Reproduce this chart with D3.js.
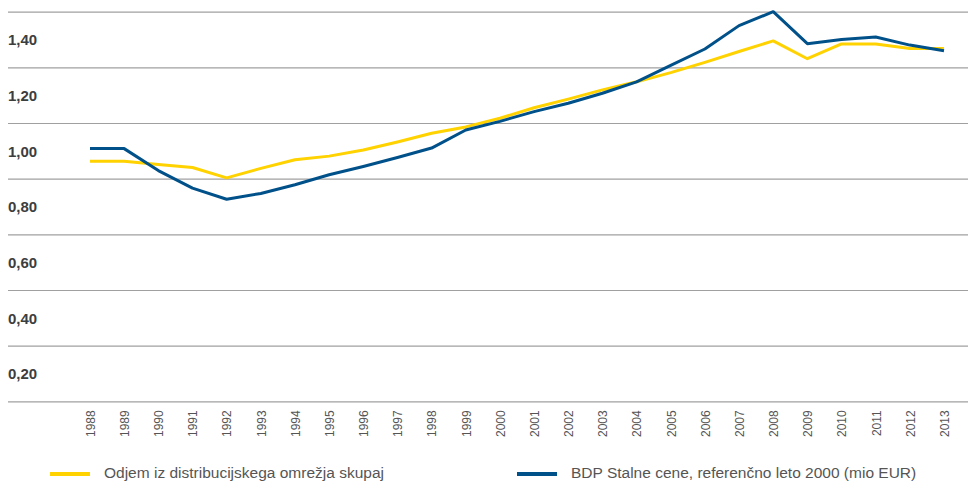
<!DOCTYPE html>
<html>
<head>
<meta charset="utf-8">
<script src="https://cdn.jsdelivr.net/npm/d3@7"></script>
<style>
  body { margin: 0; background: #fff; }
  svg { display: block; font-family: "Liberation Sans", Arial, sans-serif; }
  .y-label text { font-weight: bold; font-size: 15px; fill: #3d3d3d; }
  .x-label text { font-size: 12px; fill: #555; }
  .grid line { stroke: #a0a0a0; stroke-width: 1.2; }
  .legend-text { font-size: 15.5px; fill: #555; }
</style>
</head>
<body>
<div id="chart"></div>
<script>
const years = d3.range(1988, 2014);

// Odjem iz distribucijskega omrežja skupaj
const odjem = [0.963, 0.963, 0.951, 0.940, 0.903, 0.937, 0.968, 0.981, 1.003, 1.032,
  1.063, 1.086, 1.117, 1.155, 1.186, 1.219, 1.248, 1.281, 1.318, 1.357,
  1.395, 1.331, 1.384, 1.384, 1.368, 1.368];

// BDP Stalne cene, referenčno leto 2000
const bdp = [1.008, 1.008, 0.929, 0.866, 0.826, 0.847, 0.878, 0.914, 0.944, 0.976,
  1.010, 1.075, 1.106, 1.141, 1.171, 1.207, 1.248, 1.307, 1.366, 1.450,
  1.500, 1.385, 1.400, 1.409, 1.380, 1.360];

const labelTicks = [0.2, 0.4, 0.6, 0.8, 1.0, 1.2, 1.4];
const gridTicks = [0.1, 0.3, 0.5, 0.7, 0.9, 1.1, 1.3, 1.5];

const seriesNames = [
  'Odjem iz distribucijskega omrežja skupaj',
  'BDP Stalne cene, referenčno leto 2000 (mio EUR)',
];
const colors = ['#ffd200', '#00508a'];

const width = 968;
const height = 482;

const svg = d3.select('#chart').append('svg')
  .attr('width', width)
  .attr('height', height);

const x = d3.scalePoint()
  .domain(years)
  .range([90, 944]);

const y = d3.scaleLinear()
  .domain([0.1, 1.5])
  .range([401.3, 11.7]);

const fmt = d3.formatLocale({ decimal: ',', thousands: '.', grouping: [3], currency: ['', '€'] }).format('.2f');

/* grid lines */
svg.append('g')
  .attr('class', 'grid')
  .attr('transform', 'translate(8,0)')
  .call(d3.axisLeft(y).tickValues(gridTicks).tickSize(-(width - 8)).tickFormat(''))
  .call((g) => g.select('.domain').remove());

/* y labels */
svg.append('g')
  .attr('class', 'y-label')
  .attr('transform', 'translate(8,0)')
  .call(d3.axisLeft(y).tickValues(labelTicks).tickSize(0).tickFormat(fmt))
  .call((g) => g.select('.domain').remove())
  .call((g) => g.selectAll('text').attr('text-anchor', 'start').attr('x', 0).attr('dy', '0.36em'));

/* x labels */
svg.append('g')
  .attr('class', 'x-label')
  .attr('transform', `translate(0,${y(0.1)})`)
  .call(d3.axisBottom(x).tickSize(0).tickFormat((d) => String(d)))
  .call((g) => g.select('.domain').remove())
  .call((g) => g.selectAll('text')
    .attr('text-anchor', 'end')
    .attr('transform', 'rotate(-90)')
    .attr('x', -9)
    .attr('y', 0)
    .attr('dy', '0.36em'));

/* lines */
const line = d3.line()
  .x((d, i) => x(years[i]))
  .y((d) => y(d));

[odjem, bdp].forEach((s, i) => {
  svg.append('path')
    .datum(s)
    .attr('fill', 'none')
    .attr('stroke', colors[i])
    .attr('stroke-width', 3)
    .attr('stroke-linejoin', 'round')
    .attr('d', line);
});

/* legend */
const legendPos = [50, 517];
const legend = svg.selectAll('.legend')
  .data(seriesNames)
  .join('g')
  .attr('class', 'legend')
  .attr('transform', (d, i) => `translate(${legendPos[i]},474)`);

legend.append('rect')
  .attr('x', 0)
  .attr('y', -2)
  .attr('width', 40)
  .attr('height', 4)
  .attr('fill', (d, i) => colors[i]);

legend.append('text')
  .attr('class', 'legend-text')
  .attr('x', 54)
  .attr('y', 4)
  .text((d) => d);
</script>
</body>
</html>
